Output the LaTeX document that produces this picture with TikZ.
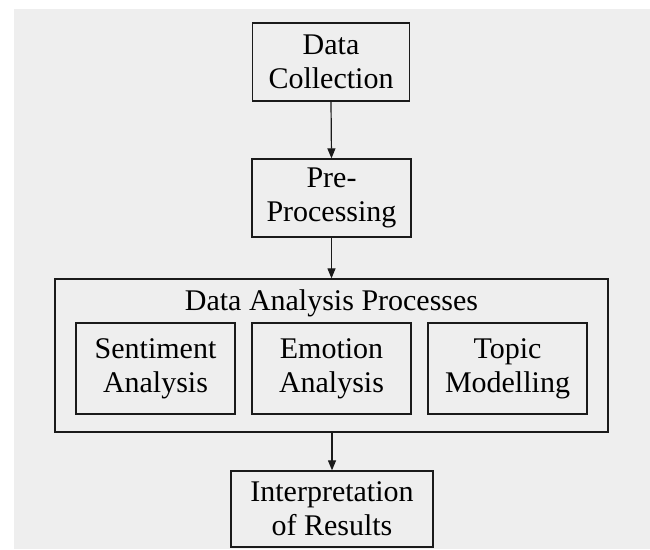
\documentclass[tikz,border=0pt]{standalone}
\usepackage{fontspec}
\setmainfont{Liberation Serif}
\usetikzlibrary{arrows.meta}
\definecolor{bggray}{HTML}{EEEEEE}
\definecolor{lineblk}{HTML}{1A1A1A}
\begin{document}
\begin{tikzpicture}[x=1pt,y=1pt,
  boxstyle/.style={draw=lineblk, line width=1.3pt, inner sep=0pt, align=center,
    font=\fontsize{30}{34}\selectfont, text=black},
  arrowstyle/.style={draw=lineblk, line width=1.2pt, -{Triangle[length=10pt,width=8pt]}},
  titlestyle/.style={font=\fontsize{30}{34}\selectfont, text=black, inner sep=0pt}
]
\useasboundingbox (0,0) rectangle (650,-549);
\fill[white] (0,0) rectangle (650,-549);
\fill[bggray] (14,-9) rectangle (650,-549);

\node[boxstyle, minimum width=157, minimum height=78] (dc) at (331,-62) {Data\\Collection};
\node[boxstyle, minimum width=159, minimum height=78] (pp) at (331.5,-198) {Pre-\\Processing};
\node[boxstyle, minimum width=553, minimum height=153] (dap) at (331.5,-355.5) {};
\node[titlestyle, anchor=base] (title) at (331.5,-310) {Data Analysis Processes};
\node[boxstyle, minimum width=159, minimum height=91] (sa) at (155.5,-368.5) {Sentiment\\Analysis};
\node[boxstyle, minimum width=159, minimum height=91] (ea) at (331.5,-368.5) {Emotion\\Analysis};
\node[boxstyle, minimum width=159, minimum height=91] (tm) at (507.5,-368.5) {Topic\\Modelling};
\node[boxstyle, minimum width=202, minimum height=76] (ir) at (332,-509) {Interpretation\\of Results};

\draw[arrowstyle] (dc.south) -- (pp.north);
\draw[arrowstyle] (pp.south) -- (dap.north);
\draw[arrowstyle] (dap.south -| ir.north) -- (ir.north);
\end{tikzpicture}
\end{document}
